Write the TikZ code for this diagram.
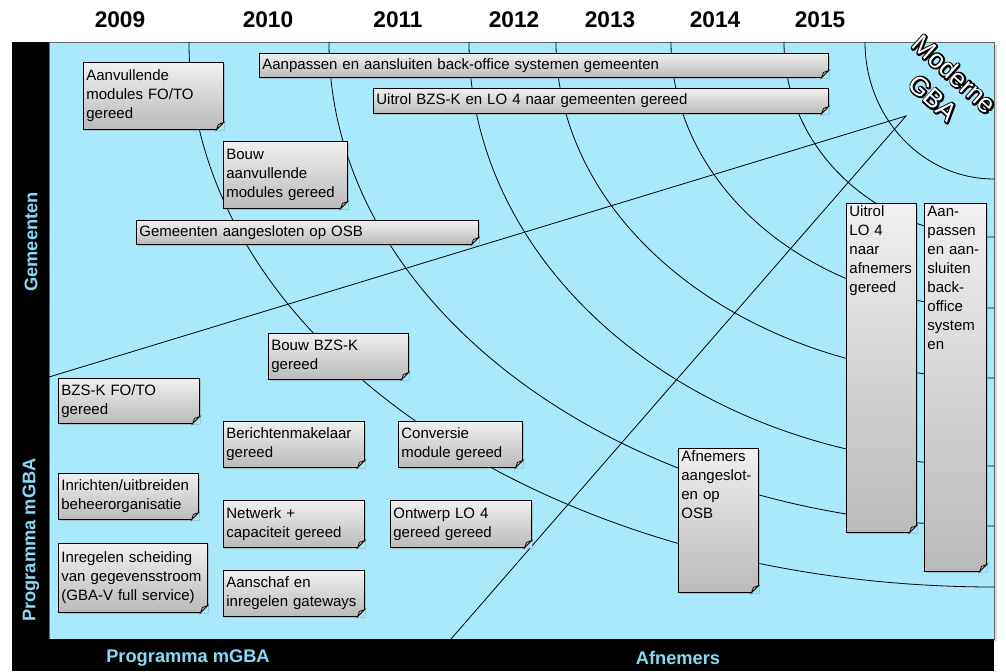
\documentclass[tikz,border=0pt]{standalone}
\usepackage{fontspec}
\setmainfont{Liberation Sans}
\usetikzlibrary{shadows}

\definecolor{panel}{RGB}{170,232,252}
\definecolor{labelblue}{RGB}{135,218,245}
\definecolor{notetop}{RGB}{240,240,240}
\definecolor{notebot}{RGB}{186,186,186}
\definecolor{foldgray}{RGB}{215,215,215}
\newcommand\notefont{\fontsize{11.25}{14.25}\selectfont}
% witte letters met zwarte rand
\newcommand\omtrek[1]{\rlap{\special{pdf:literal direct 1 Tr 2.4 w 1 j 0 0 0 RG}#1\special{pdf:literal direct 0 Tr}}#1}

\tikzset{
  mstone/.style 2 args={draw=black, line width=.6pt, top color=notetop, bottom color=notebot,
    drop shadow={shadow xshift=1.5pt, shadow yshift=-1.5pt, opacity=.35},
    anchor=north west, inner xsep=2.25pt, inner ysep=1.5pt, align=left, font=\notefont,
    text width={#1*0.75pt-4.5pt}, minimum width={#1*0.75pt}, minimum height={#2*0.75pt}},
  yearlabel/.style={font=\fontsize{17}{20}\selectfont\bfseries},
  sidelabel/.style={font=\fontsize{13.7}{16}\selectfont\bfseries, text=labelblue},
  gbatext/.style={font=\fontsize{19.5}{24}\selectfont, rotate=-42, align=center},
}

\begin{document}
\begin{tikzpicture}[x=0.75pt, y=-0.75pt]
    \useasboundingbox (0,0) rectangle (1006,671);
    % achtergrond
    \filldraw[panel, draw=black!60, drop shadow={shadow xshift=2pt, shadow yshift=-2pt, opacity=.3}] (49,42) rectangle (994,639);
    \fill[black] (12,42) rectangle (49,671);
    \fill[black] (12,639) rectangle (994,671);

    % jaren
    \foreach \jaar/\xpos in {2009/120, 2010/268, 2011/398, 2012/514, 2013/610, 2014/715, 2015/820}
        \node[yearlabel] (j\jaar) at (\xpos,20) {\jaar};

    % bogen rond de hoek rechtsboven
    \coordinate (hoek) at (994,42);
    \foreach \a/\b in {805/545, 665/484, 525/424, 438/336, 323/266, 210/195, 129/137}
        \draw[line width=.6pt] (994-\a,42) arc[start angle=180, end angle=90, x radius=\a, y radius=\b];

    % lijnen naar Moderne GBA
    \coordinate (gba) at (906,116);
    \coordinate (links) at (49,377);
    \coordinate (onder) at (451,639);
    \draw[line width=.6pt] (links) -- (gba) -- (onder);

    % mijlpalen
    \node[mstone={140}{67}] (aanv) at (83,62) {Aanvullende\\modules FO/TO\\gereed};
    \node[mstone={124}{67}] (bouwaanv) at (223,141) {Bouw\\aanvullende\\modules gereed};
    \node[mstone={342}{24}] (gemosb) at (136,220) {Gemeenten aangesloten op OSB};
    \node[mstone={569}{24}] (aanpgem) at (259,53) {Aanpassen en aansluiten back-office systemen gemeenten};
    \node[mstone={455}{25}] (uitrolgem) at (373,88) {Uitrol BZS-K en LO 4 naar gemeenten gereed};
    \node[mstone={140}{46}] (bouwbzsk) at (268,333) {Bouw BZS-K\\gereed};
    \node[mstone={141}{45}] (bzskfoto) at (58,378) {BZS-K FO/TO\\gereed};
    \node[mstone={141}{46}] (berichten) at (223,421) {Berichtenmakelaar\\gereed};
    \node[mstone={124}{46}] (conversie) at (398,421) {Conversie\\module gereed};
    \node[mstone={140}{46}] (inrichten) at (58,473) {Inrichten/uitbreiden\\beheerorganisatie};
    \node[mstone={141}{47}] (netwerk) at (223,500) {Netwerk +\\capaciteit gereed};
    \node[mstone={141}{47}] (ontwerp) at (390,500) {Ontwerp LO 4\\gereed gereed};
    \node[mstone={149}{69}] (inregelen) at (58,543) {Inregelen scheiding\\van gegevensstroom\\(GBA-V full service)};
    \node[mstone={141}{46}] (aanschaf) at (223,570) {Aanschaf en\\inregelen gateways};
    \node[mstone={80}{144}, text depth=96.5pt] (afnemers) at (678,448) {Afnemers\\aangeslot-\\en op\\OSB};
    \node[mstone={70}{329}, text depth=235.5pt] (uitrolafn) at (846,203) {Uitrol\\LO 4\\naar\\afnemers\\gereed};
    \node[mstone={62}{368}, text depth=264.5pt] (aanpafn) at (924,203) {Aan-\\passen\\en aan-\\sluiten\\back-\\office\\system\\en};

    % omgevouwen hoekjes
    \foreach \n in {aanv, bouwaanv, gemosb, aanpgem, uitrolgem, bouwbzsk, bzskfoto, berichten, conversie,
                    inrichten, netwerk, ontwerp, inregelen, aanschaf, afnemers, uitrolafn, aanpafn} {
        \fill[panel] ([xshift=-5.5pt]\n.south east) -- ([xshift=.4pt,yshift=-.4pt]\n.south east) -- ([yshift=5.5pt]\n.south east) -- cycle;
        \draw[line width=.6pt, fill=foldgray] ([xshift=-5.5pt]\n.south east) -- ([yshift=5.5pt]\n.south east)
            -- ([xshift=-4pt,yshift=4pt]\n.south east) -- cycle;
    }

    % zijlabels
    \node[sidelabel, rotate=90] (gemeenten) at (31,242) {Gemeenten};
    \node[sidelabel, rotate=90] (progzij) at (31,540) {Programma mGBA};
    \node[sidelabel] (progonder) at (188,658) {Programma mGBA};
    \node[sidelabel] (afnonder) at (678,658) {Afnemers};

    % Moderne GBA
    \node[gbatext, text=white] (moderne) at (944,86) {\omtrek{Moderne}\\\omtrek{GBA}};
\end{tikzpicture}
\end{document}
